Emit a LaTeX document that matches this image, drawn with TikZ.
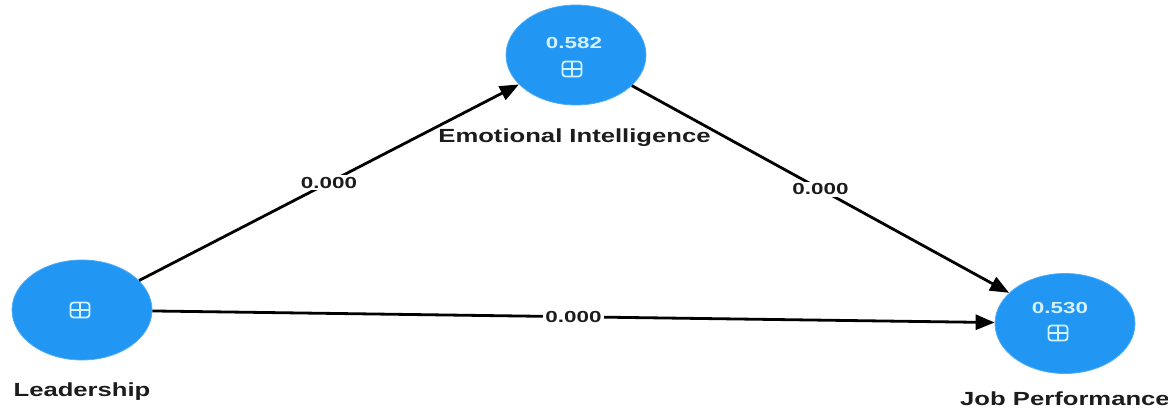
\documentclass[tikz,border=0pt]{standalone}
\usepackage{fontspec}
\setmainfont{Liberation Sans}
\usepackage{tikz}
\usetikzlibrary{calc,arrows.meta,shapes.geometric}
\definecolor{lvblue}{HTML}{2196F3}
\definecolor{lvedge}{HTML}{4FACF6}
\definecolor{lvtext}{HTML}{D4F1FF}
\definecolor{ink}{HTML}{1C1C1C}

\begin{document}
\begin{tikzpicture}[x=1pt,y=1pt,>={Triangle[length=19pt,width=15pt]},
  latent/.style={ellipse,fill=lvblue,draw=lvedge,line width=0.8pt,
    minimum width=140pt,minimum height=100pt,inner sep=0pt},
  lvname/.style={font=\fontsize{19}{19}\selectfont\bfseries,text=ink,
    xscale=1.35,anchor=base,inner sep=0pt},
  rsq/.style={font=\fontsize{16}{16}\selectfont\bfseries,text=lvtext,
    xscale=1.4,anchor=base,inner sep=0pt},
  coef/.style={font=\fontsize{16}{16}\selectfont\bfseries,text=ink,
    xscale=1.4,fill=white,inner sep=2pt},
  plusbox/.style={draw=lvtext,line width=1.8pt,rounded corners=3pt,
    minimum width=19pt,minimum height=15pt,inner sep=0pt,
    path picture={\draw[lvtext,line width=1.8pt]
      (path picture bounding box.north) -- (path picture bounding box.south)
      (path picture bounding box.west) -- (path picture bounding box.east);}},
  link/.style={->,line width=2.8pt,black}]
  \useasboundingbox (0,-411) rectangle (1168,0);

  % constructs
  \node[latent] (lead) at (82,-310) {};
  \node[latent] (emo)  at (576,-55) {};
  \node[latent] (perf) at (1065,-323.5) {};

  % r-squared and expand boxes
  \node[rsq] (emoval)  at (574,-48.3)  {0.582};
  \node[rsq] (perfval) at (1060,-313.3) {0.530};
  \node[plusbox] (leadbox) at (80,-310) {};
  \node[plusbox] (emobox)  at (572,-69) {};
  \node[plusbox] (perfbox) at (1058,-333) {};

  % names
  \node[lvname] (leadname) at (82,-397)    {Leadership};
  \node[lvname] (emoname)  at (574.5,-143) {Emotional Intelligence};
  \node[lvname] (perfname) at (1065,-406)  {Job Performance};

  % paths
  \draw[link] (lead) -- node[coef] (c1) {0.000} (emo);
  \draw[link] (emo)  -- node[coef] (c2) {0.000} (perf);
  \draw[link] (lead) -- node[coef] (c3) {0.000} (perf);
\end{tikzpicture}
\end{document}
